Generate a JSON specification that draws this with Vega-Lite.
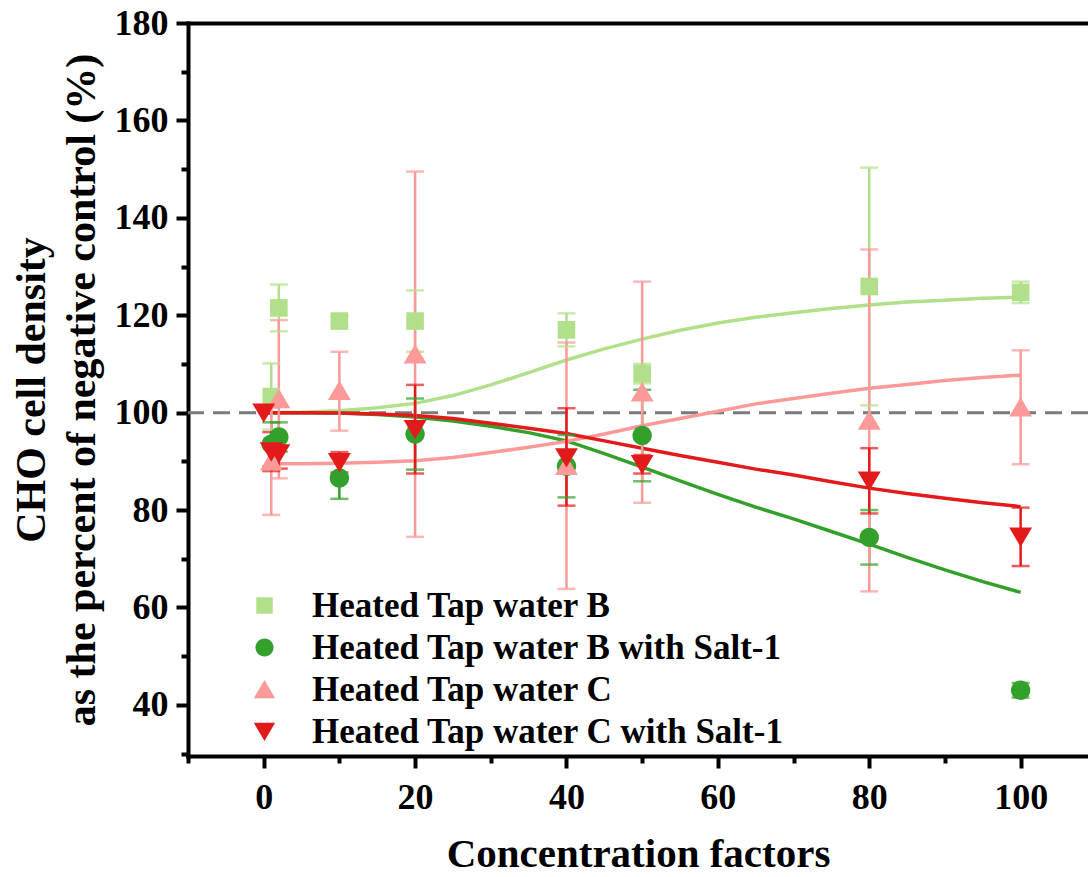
{
  "$schema": "https://vega.github.io/schema/vega-lite/v6.json",
  "autosize": "none",
  "width": 900,
  "height": 733,
  "padding": {"left": 188, "top": 23, "right": 0, "bottom": 121},
  "background": "white",
  "config": {
    "view": {"stroke": null},
    "font": "Liberation Serif",
    "axis": {
      "grid": false,
      "domainColor": "black",
      "domainWidth": 4,
      "domainCap": "square",
      "tickColor": "black",
      "tickWidth": 4,
      "labelColor": "black",
      "labelFont": "Liberation Serif",
      "labelFontWeight": "bold",
      "labelFontSize": 36,
      "titleColor": "black",
      "titleFont": "Liberation Serif",
      "titleFontWeight": "bold",
      "titleFontSize": 42
    }
  },
  "datasets": {
    "pts": [
      {"series": "Heated Tap water B", "k": "B", "x": 1, "y": 103.3, "lo": 96.5, "hi": 110.1},
      {"series": "Heated Tap water B", "k": "B", "x": 2, "y": 121.5, "lo": 116.7, "hi": 126.3},
      {"series": "Heated Tap water B", "k": "B", "x": 10, "y": 118.8, "lo": 117.8, "hi": 119.8},
      {"series": "Heated Tap water B", "k": "B", "x": 20, "y": 118.8, "lo": 112.5, "hi": 125.1},
      {"series": "Heated Tap water B", "k": "B", "x": 40, "y": 117.0, "lo": 113.6, "hi": 120.4},
      {"series": "Heated Tap water B", "k": "B", "x": 50, "y": 108.0, "lo": 106.0, "hi": 110.0},
      {"series": "Heated Tap water B", "k": "B", "x": 80, "y": 125.9, "lo": 101.5, "hi": 150.3},
      {"series": "Heated Tap water B", "k": "B", "x": 100, "y": 124.7, "lo": 122.5, "hi": 126.9},
      {"series": "Heated Tap water B with Salt-1", "k": "BS", "x": 1, "y": 93.5, "lo": 89.0, "hi": 98.0},
      {"series": "Heated Tap water B with Salt-1", "k": "BS", "x": 2, "y": 95.0, "lo": 92.0, "hi": 98.0},
      {"series": "Heated Tap water B with Salt-1", "k": "BS", "x": 10, "y": 86.6, "lo": 82.3, "hi": 90.9},
      {"series": "Heated Tap water B with Salt-1", "k": "BS", "x": 20, "y": 95.6, "lo": 88.3, "hi": 102.9},
      {"series": "Heated Tap water B with Salt-1", "k": "BS", "x": 40, "y": 89.0, "lo": 82.6, "hi": 95.4},
      {"series": "Heated Tap water B with Salt-1", "k": "BS", "x": 50, "y": 95.3, "lo": 85.9, "hi": 104.7},
      {"series": "Heated Tap water B with Salt-1", "k": "BS", "x": 80, "y": 74.4, "lo": 68.8, "hi": 80.0},
      {"series": "Heated Tap water B with Salt-1", "k": "BS", "x": 100, "y": 43.0, "lo": 41.5, "hi": 44.5},
      {"series": "Heated Tap water C", "k": "C", "x": 1, "y": 90.0, "lo": 79.0, "hi": 101.0},
      {"series": "Heated Tap water C", "k": "C", "x": 2, "y": 102.8, "lo": 86.5, "hi": 119.0},
      {"series": "Heated Tap water C", "k": "C", "x": 10, "y": 104.5, "lo": 96.3, "hi": 112.5},
      {"series": "Heated Tap water C", "k": "C", "x": 20, "y": 112.0, "lo": 74.5, "hi": 149.5},
      {"series": "Heated Tap water C", "k": "C", "x": 40, "y": 89.1, "lo": 63.8, "hi": 114.4},
      {"series": "Heated Tap water C", "k": "C", "x": 50, "y": 104.2, "lo": 81.5, "hi": 126.9},
      {"series": "Heated Tap water C", "k": "C", "x": 80, "y": 98.4, "lo": 63.3, "hi": 133.5},
      {"series": "Heated Tap water C", "k": "C", "x": 100, "y": 101.1, "lo": 89.4, "hi": 112.8},
      {"series": "Heated Tap water C with Salt-1", "k": "CS", "x": 0, "y": 100.0, "lo": null, "hi": null},
      {"series": "Heated Tap water C with Salt-1", "k": "CS", "x": 1, "y": 92.0, "lo": 88.0, "hi": 96.0},
      {"series": "Heated Tap water C with Salt-1", "k": "CS", "x": 2, "y": 91.6, "lo": 88.5, "hi": 94.7},
      {"series": "Heated Tap water C with Salt-1", "k": "CS", "x": 10, "y": 89.8, "lo": 87.7, "hi": 91.9},
      {"series": "Heated Tap water C with Salt-1", "k": "CS", "x": 20, "y": 96.6, "lo": 87.5, "hi": 105.7},
      {"series": "Heated Tap water C with Salt-1", "k": "CS", "x": 40, "y": 90.8, "lo": 80.9, "hi": 100.9},
      {"series": "Heated Tap water C with Salt-1", "k": "CS", "x": 50, "y": 89.4, "lo": 87.5, "hi": 91.3},
      {"series": "Heated Tap water C with Salt-1", "k": "CS", "x": 80, "y": 86.0, "lo": 79.3, "hi": 92.7},
      {"series": "Heated Tap water C with Salt-1", "k": "CS", "x": 100, "y": 74.5, "lo": 68.5, "hi": 80.5}
    ],
    "curves": [
      {"k": "B", "x": 0, "y": 100.0},
      {"k": "B", "x": 5, "y": 100.1},
      {"k": "B", "x": 10, "y": 100.4},
      {"k": "B", "x": 15, "y": 101.0},
      {"k": "B", "x": 20, "y": 101.9},
      {"k": "B", "x": 25, "y": 103.5},
      {"k": "B", "x": 30, "y": 105.7},
      {"k": "B", "x": 35, "y": 108.2},
      {"k": "B", "x": 40, "y": 110.8},
      {"k": "B", "x": 45, "y": 113.1},
      {"k": "B", "x": 50, "y": 115.1},
      {"k": "B", "x": 55, "y": 116.9},
      {"k": "B", "x": 60, "y": 118.4},
      {"k": "B", "x": 65, "y": 119.6},
      {"k": "B", "x": 70, "y": 120.5},
      {"k": "B", "x": 75, "y": 121.4},
      {"k": "B", "x": 80, "y": 122.1},
      {"k": "B", "x": 85, "y": 122.7},
      {"k": "B", "x": 90, "y": 123.1},
      {"k": "B", "x": 95, "y": 123.5},
      {"k": "B", "x": 100, "y": 123.7},
      {"k": "BS", "x": 0, "y": 100.0},
      {"k": "BS", "x": 5, "y": 100.0},
      {"k": "BS", "x": 10, "y": 99.9},
      {"k": "BS", "x": 15, "y": 99.6},
      {"k": "BS", "x": 20, "y": 99.1},
      {"k": "BS", "x": 25, "y": 98.3},
      {"k": "BS", "x": 30, "y": 97.2},
      {"k": "BS", "x": 35, "y": 95.9},
      {"k": "BS", "x": 40, "y": 94.2},
      {"k": "BS", "x": 45, "y": 91.6},
      {"k": "BS", "x": 50, "y": 88.8},
      {"k": "BS", "x": 55, "y": 86.0},
      {"k": "BS", "x": 60, "y": 83.2},
      {"k": "BS", "x": 65, "y": 80.6},
      {"k": "BS", "x": 70, "y": 78.2},
      {"k": "BS", "x": 75, "y": 75.6},
      {"k": "BS", "x": 80, "y": 73.0},
      {"k": "BS", "x": 85, "y": 70.3},
      {"k": "BS", "x": 90, "y": 67.7},
      {"k": "BS", "x": 95, "y": 65.3},
      {"k": "BS", "x": 100, "y": 63.1},
      {"k": "C", "x": 1, "y": 89.5},
      {"k": "C", "x": 5, "y": 89.5},
      {"k": "C", "x": 10, "y": 89.6},
      {"k": "C", "x": 15, "y": 89.8},
      {"k": "C", "x": 20, "y": 90.1},
      {"k": "C", "x": 25, "y": 90.8},
      {"k": "C", "x": 30, "y": 91.8},
      {"k": "C", "x": 35, "y": 92.9},
      {"k": "C", "x": 40, "y": 94.1},
      {"k": "C", "x": 45, "y": 95.6},
      {"k": "C", "x": 50, "y": 97.3},
      {"k": "C", "x": 55, "y": 98.8},
      {"k": "C", "x": 60, "y": 100.3},
      {"k": "C", "x": 65, "y": 101.8},
      {"k": "C", "x": 70, "y": 102.9},
      {"k": "C", "x": 75, "y": 104.0},
      {"k": "C", "x": 80, "y": 105.0},
      {"k": "C", "x": 85, "y": 105.8},
      {"k": "C", "x": 90, "y": 106.6},
      {"k": "C", "x": 95, "y": 107.2},
      {"k": "C", "x": 100, "y": 107.7},
      {"k": "CS", "x": 0, "y": 100.0},
      {"k": "CS", "x": 5, "y": 100.0},
      {"k": "CS", "x": 10, "y": 99.9},
      {"k": "CS", "x": 15, "y": 99.7},
      {"k": "CS", "x": 20, "y": 99.4},
      {"k": "CS", "x": 25, "y": 98.8},
      {"k": "CS", "x": 30, "y": 97.8},
      {"k": "CS", "x": 35, "y": 96.8},
      {"k": "CS", "x": 40, "y": 95.7},
      {"k": "CS", "x": 45, "y": 94.2},
      {"k": "CS", "x": 50, "y": 92.7},
      {"k": "CS", "x": 55, "y": 91.2},
      {"k": "CS", "x": 60, "y": 89.8},
      {"k": "CS", "x": 65, "y": 88.4},
      {"k": "CS", "x": 70, "y": 87.2},
      {"k": "CS", "x": 75, "y": 85.8},
      {"k": "CS", "x": 80, "y": 84.5},
      {"k": "CS", "x": 85, "y": 83.4},
      {"k": "CS", "x": 90, "y": 82.4},
      {"k": "CS", "x": 95, "y": 81.5},
      {"k": "CS", "x": 100, "y": 80.7}
    ],
    "ref": [{"y": 100}]
  },
  "resolve": {"axis": {"x": "independent", "y": "independent"}},
  "layer": [
    {
      "data": {"name": "pts"},
      "mark": {"type": "point", "opacity": 0},
      "encoding": {
        "x": {"field": "x", "type": "quantitative", "scale": {"domain": [-10, 108.9], "nice": false, "zero": false},
          "axis": {"orient": "bottom", "values": [-10, 10, 30, 50, 70, 90], "labels": false, "domain": false, "tickSize": 7, "title": null}},
        "y": {"field": "y", "type": "quantitative", "scale": {"domain": [29.5, 180], "nice": false, "zero": false},
          "axis": {"orient": "left", "values": [30, 50, 70, 90, 110, 130, 150, 170], "labels": false, "domain": false, "tickSize": 7, "title": null}}
      }
    },
    {
      "data": {"name": "pts"},
      "mark": {"type": "point", "opacity": 0},
      "encoding": {
        "x": {"field": "x", "type": "quantitative",
          "axis": {"orient": "top", "ticks": false, "labels": false, "domain": true, "title": null}},
        "y": {"field": "y", "type": "quantitative", "axis": null}
      }
    },
    {
      "data": {"name": "ref"},
      "mark": {"type": "rule", "color": "#7a7a7a", "strokeWidth": 3, "strokeDash": [17, 9]},
      "encoding": {"y": {"field": "y", "type": "quantitative", "axis": null}}
    },
    {
      "data": {"name": "curves"},
      "mark": {"type": "line", "strokeWidth": 3.5},
      "encoding": {
        "x": {"field": "x", "type": "quantitative", "axis": null},
        "y": {"field": "y", "type": "quantitative", "axis": null},
        "stroke": {"field": "k", "type": "nominal",
          "scale": {"domain": ["B", "BS", "C", "CS"], "range": ["#b2df8a", "#33a02c", "#fb9a99", "#e31a1c"]},
          "legend": null}
      }
    },
    {
      "data": {"name": "pts"},
      "transform": [{"filter": "datum.lo != null"}],
      "layer": [
        {
          "mark": {"type": "rule", "strokeWidth": 2.5},
          "encoding": {
            "x": {"field": "x", "type": "quantitative", "axis": null},
            "y": {"field": "lo", "type": "quantitative", "axis": null},
            "y2": {"field": "hi"},
            "stroke": {"field": "k", "type": "nominal", "legend": null}
          }
        },
        {
          "mark": {"type": "tick", "orient": "horizontal", "size": 18, "thickness": 2.5},
          "encoding": {
            "x": {"field": "x", "type": "quantitative", "axis": null},
            "y": {"field": "lo", "type": "quantitative", "axis": null},
            "fill": {"field": "k", "type": "nominal",
              "scale": {"domain": ["B", "BS", "C", "CS"], "range": ["#b2df8a", "#33a02c", "#fb9a99", "#e31a1c"]},
              "legend": null}
          }
        },
        {
          "mark": {"type": "tick", "orient": "horizontal", "size": 18, "thickness": 2.5},
          "encoding": {
            "x": {"field": "x", "type": "quantitative", "axis": null},
            "y": {"field": "hi", "type": "quantitative", "axis": null},
            "fill": {"field": "k", "type": "nominal", "legend": null}
          }
        }
      ]
    },
    {
      "data": {"name": "pts"},
      "mark": {"type": "point", "filled": true, "opacity": 1, "strokeWidth": 0, "size": 310},
      "encoding": {
        "x": {"field": "x", "type": "quantitative",
          "axis": {"orient": "bottom", "values": [0, 20, 40, 60, 80, 100], "tickSize": 12, "labelPadding": 12,
            "title": "Concentration factors", "titlePadding": 19, "titleFontSize": 41}},
        "y": {"field": "y", "type": "quantitative",
          "axis": {"orient": "left", "values": [40, 60, 80, 100, 120, 140, 160, 180], "tickSize": 12, "labelPadding": 8,
            "title": ["CHO cell density", "as the percent of negative control (%)"], "titlePadding": 11, "titleLineHeight": 50}},
        "color": {"field": "series", "type": "nominal",
          "scale": {"domain": ["Heated Tap water B", "Heated Tap water B with Salt-1", "Heated Tap water C", "Heated Tap water C with Salt-1"],
            "range": ["#b2df8a", "#33a02c", "#fb9a99", "#e31a1c"]},
          "legend": {"orient": "none", "legendX": 59, "legendY": 565, "padding": 0, "title": null,
            "labelFont": "Liberation Serif", "labelFontWeight": "bold", "labelFontSize": 35, "labelColor": "black",
            "labelLimit": 0, "labelOffset": 30, "rowPadding": 6, "symbolStrokeWidth": 0, "symbolSize": 270}},
        "shape": {"field": "series", "type": "nominal",
          "scale": {"domain": ["Heated Tap water B", "Heated Tap water B with Salt-1", "Heated Tap water C", "Heated Tap water C with Salt-1"],
            "range": ["M-1,-1H1V1H-1Z", "M-1.1,0A1.1,1.1 0 1,0 1.1,0A1.1,1.1 0 1,0 -1.1,0Z", "M0,-1.15L1.3,1.05L-1.3,1.05Z", "M0,1.15L1.3,-1.05L-1.3,-1.05Z"]},
          "legend": {"orient": "none", "legendX": 59, "legendY": 565, "padding": 0, "title": null,
            "labelFont": "Liberation Serif", "labelFontWeight": "bold", "labelFontSize": 35, "labelColor": "black",
            "labelLimit": 0, "labelOffset": 30, "rowPadding": 6, "symbolStrokeWidth": 0, "symbolSize": 270}}
      }
    }
  ]
}
